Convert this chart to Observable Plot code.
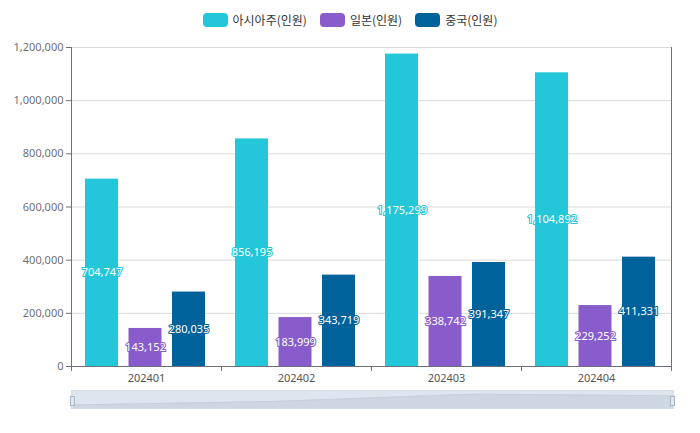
<!DOCTYPE html>
<html><head><meta charset="utf-8">
<script src="https://cdn.jsdelivr.net/npm/d3@7"></script>
<script src="https://cdn.jsdelivr.net/npm/@observablehq/plot@0.6"></script>
<style>
body{margin:0;background:#fff;font-family:"Noto Sans","Noto Sans CJK KR",sans-serif;}
#wrap{position:relative;width:700px;height:433px;overflow:hidden;}
#legend{position:absolute;top:11px;left:0;width:700px;display:flex;justify-content:center;gap:13px;font-size:12px;color:#333;font-family:"Noto Sans CJK KR",sans-serif;}
#legend .item{display:flex;align-items:center;}
#legend .sw{width:25px;height:14px;border-radius:4px;margin-right:5px;}
#chart{position:absolute;top:0;left:0;}
#slider{position:absolute;left:71px;top:390px;width:603px;height:19px;background:#dfe5ef;box-sizing:border-box;border:1px solid #d3dbe7;}
#slider svg{position:absolute;left:0;top:0;}
.handle{position:absolute;top:5px;width:3px;height:8px;background:#dfe5ef;border:1px solid #a8b6c8;}
</style></head>
<body>
<div id="wrap">
  <div id="chart"></div>
  <div id="legend"></div>
  <div id="slider"></div>
</div>
<script>
const months = ["202401", "202402", "202403", "202404"];
const seriesNames = ["아시아주(인원)", "일본(인원)", "중국(인원)"];
const asia = [704747, 856195, 1175299, 1104892];
const japan = [143152, 183999, 338742, 229252];
const china = [280035, 343719, 391347, 411331];
const yTicks = [0, 200000, 400000, 600000, 800000, 1000000, 1200000];
const colors = ["#24c6da", "#895ccb", "#00629b"];

const seriesValues = [asia, japan, china];
const table = [];
seriesNames.forEach((s, i) => months.forEach((m, j) => table.push({series: s, si: i, month: m, value: seriesValues[i][j]})));

const fmt = d3.format(",");
const W = 700, H = 390, ML = 71, MR = 29, MT = 47, MB = 24;
const bandW = (W - ML - MR) / months.length;
const groupPad = 14, barW = 33, barStep = 43.5;

function axisLines(index, scales, values, dims) {
  const x = scales.x, y = scales.y;
  const g = d3.create("svg:g").attr("stroke", "#6E7079").attr("fill", "none");
  const y0 = y(0);
  const left = dims.marginLeft, right = dims.width - dims.marginRight, top = dims.marginTop;
  g.append("line").attr("x1", left + 0.5).attr("x2", left + 0.5).attr("y1", top).attr("y2", y0);
  g.append("line").attr("x1", right + 0.5).attr("x2", right + 0.5).attr("y1", top).attr("y2", y0);
  g.append("line").attr("x1", left).attr("x2", right + 1).attr("y1", y0 + 0.5).attr("y2", y0 + 0.5);
  const bw = x.bandwidth ? x.bandwidth() : bandW;
  const edges = months.map(m => x(m)).concat([x(months[months.length - 1]) + bw]);
  edges.forEach(e => g.append("line").attr("x1", Math.round(e) + 0.5).attr("x2", Math.round(e) + 0.5).attr("y1", y0).attr("y2", y0 + 5));
  return g.node();
}

const marks = [
  Plot.gridY(yTicks, {stroke: "#dadada", strokeOpacity: 1}),
  Plot.axisY(yTicks, {tickSize: 5, tickPadding: 3, tickFormat: fmt, color: "#6E7079", fontSize: 11}),
  Plot.axisX({tickSize: 0, tickPadding: 8, color: "#555", fontSize: 11})
];
seriesNames.forEach((s, i) => {
  const rows = table.filter(d => d.si === i);
  const L = groupPad + i * barStep;
  const R = bandW - L - barW;
  marks.push(Plot.barY(rows, {x: "month", y: "value", fill: "series", insetLeft: L, insetRight: R}));
});
marks.push(axisLines);
seriesNames.forEach((s, i) => {
  const rows = table.filter(d => d.si === i);
  const dx = groupPad + i * barStep + barW / 2 - bandW / 2;
  marks.push(Plot.text(rows, {x: "month", y: d => d.value / 2, text: d => fmt(d.value), dx, fill: "white", stroke: colors[i], strokeWidth: 2, fontSize: 11}));
});

const chart = Plot.plot({
  width: W, height: H,
  marginLeft: ML, marginRight: MR, marginTop: MT, marginBottom: MB,
  style: {fontFamily: '"Noto Sans","Noto Sans CJK KR",sans-serif', fontSize: "11px", background: "transparent"},
  x: {domain: months, padding: 0, label: null},
  y: {domain: [0, 1200000], label: null},
  color: {domain: seriesNames, range: colors},
  marks
});
document.getElementById("chart").appendChild(chart);

const legend = document.getElementById("legend");
seriesNames.forEach((s, i) => {
  const it = document.createElement("div"); it.className = "item";
  const sw = document.createElement("div"); sw.className = "sw"; sw.style.background = colors[i];
  const t = document.createElement("span"); t.textContent = s;
  it.appendChild(sw); it.appendChild(t); legend.appendChild(it);
});

const shadow = Plot.plot({
  width: 601, height: 17, margin: 0,
  style: {background: "transparent"},
  x: {type: "point", domain: months, padding: 0, axis: null},
  y: {domain: [548000, 1293000], axis: null},
  marks: [
    Plot.areaY(months.map((m, j) => ({month: m, value: asia[j]})), {x: "month", y: "value", fill: "#ced6e2", clip: true}),
    Plot.lineY(months.map((m, j) => ({month: m, value: asia[j]})), {x: "month", y: "value", stroke: "#c6cfdc", strokeWidth: 1})
  ]
});
const slider = document.getElementById("slider");
slider.appendChild(shadow);
const h1 = document.createElement("div"); h1.className = "handle"; h1.style.left = "-2px";
const h2 = document.createElement("div"); h2.className = "handle"; h2.style.right = "-2px";
slider.appendChild(h1); slider.appendChild(h2);
</script>
</body></html>
